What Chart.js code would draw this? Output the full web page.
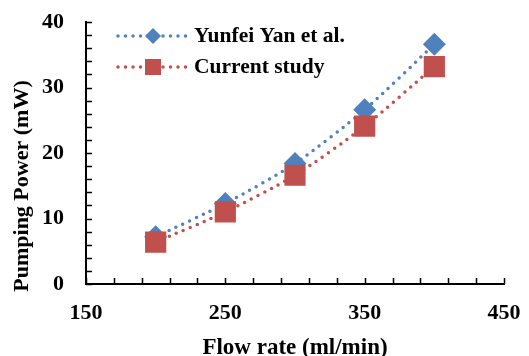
<!DOCTYPE html>
<html>
<head>
<meta charset="utf-8">
<script src="https://cdn.jsdelivr.net/npm/chart.js@4/dist/chart.umd.min.js"></script>
<style>
  body { margin: 0; background: #fff; }
  #wrap { width: 529px; height: 356px; }
</style>
</head>
<body>
<div id="wrap"><canvas id="myChart" width="529" height="356"></canvas></div>
<script>
// Data
const flowRates = [200, 250, 300, 350, 400];
const yanValues = [7.2, 12.3, 18.4, 26.6, 36.6];
const currentValues = [6.4, 11.0, 16.6, 24.1, 33.2];
const xTickLabels = [150, 250, 350, 450];
const yTickLabels = [0, 10, 20, 30, 40];
const yTitle = 'Pumping Power (mW)';

const serif = '"Liberation Serif", "Times New Roman", serif';
const blue = '#4F81BD';
const red = '#C0504D';

function toPoints(xs, ys) {
  return xs.map((x, i) => ({ x: x, y: ys[i] }));
}

// ticks drawn on the inside of the axes, like Excel
const innerTicks = {
  id: 'innerTicks',
  afterDraw(chart) {
    const ctx = chart.ctx;
    const xs = chart.scales.x;
    const ys = chart.scales.y;
    ctx.save();
    ctx.strokeStyle = '#000';
    ctx.lineWidth = 1.5;
    ctx.beginPath();
    xs.ticks.forEach(t => {
      const px = Math.round(xs.getPixelForValue(t.value)) + 0.5;
      ctx.moveTo(px, ys.bottom);
      ctx.lineTo(px, ys.bottom - 6);
    });
    ys.ticks.forEach(t => {
      const py = Math.round(ys.getPixelForValue(t.value)) + 0.5;
      ctx.moveTo(xs.left, py);
      ctx.lineTo(xs.left + 6, py);
    });
    ctx.stroke();

    // y axis title, sits a bit lower than the plot centre in the original
    ctx.translate(22, 186);
    ctx.rotate(-Math.PI / 2);
    ctx.fillStyle = '#000';
    ctx.font = 'bold 22px ' + serif;
    ctx.textAlign = 'center';
    ctx.textBaseline = 'middle';
    ctx.fillText(yTitle, 0, 0);
    ctx.restore();
  }
};

// legend sitting inside the plot, line + marker + label
const insideLegend = {
  id: 'insideLegend',
  afterDraw(chart) {
    const ctx = chart.ctx;
    const rows = [36, 67];
    chart.data.datasets.forEach((ds, i) => {
      const y = rows[i];
      ctx.save();
      ctx.strokeStyle = ds.borderColor;
      ctx.lineWidth = ds.borderWidth;
      ctx.lineCap = 'round';
      ctx.setLineDash(ds.borderDash);
      ctx.beginPath();
      ctx.moveTo(118, y);
      ctx.lineTo(189, y);
      ctx.stroke();
      ctx.setLineDash([]);
      ctx.fillStyle = ds.pointBackgroundColor;
      if (ds.pointStyle === 'rectRot') {
        const r = 8;
        ctx.beginPath();
        ctx.moveTo(153, y - r);
        ctx.lineTo(153 + r, y);
        ctx.lineTo(153, y + r);
        ctx.lineTo(153 - r, y);
        ctx.closePath();
        ctx.fill();
      } else {
        ctx.fillRect(153 - 8, y - 8, 16, 16);
      }
      ctx.fillStyle = '#000';
      ctx.font = 'bold 21.5px ' + serif;
      ctx.textBaseline = 'middle';
      ctx.textAlign = 'left';
      ctx.fillText(ds.label, 194, y);
      ctx.restore();
    });
  }
};

const data = {
  datasets: [
    {
      label: 'Yunfei Yan et al.',
      data: toPoints(flowRates, yanValues),
      borderColor: blue,
      backgroundColor: blue,
      pointBackgroundColor: blue,
      pointBorderColor: blue,
      pointStyle: 'rectRot',
      pointRadius: 9,
      borderWidth: 3.5,
      borderDash: [0, 7.5],
      borderCapStyle: 'round',
      tension: 0.25,
      order: 2,
    },
    {
      label: 'Current study',
      data: toPoints(flowRates, currentValues),
      borderColor: red,
      backgroundColor: red,
      pointBackgroundColor: red,
      pointBorderColor: red,
      pointStyle: 'rect',
      pointRadius: 12.5,
      borderWidth: 3.5,
      borderDash: [0, 7.5],
      borderCapStyle: 'round',
      tension: 0.25,
      order: 1,
    },
  ],
};

const config = {
  type: 'line',
  data,
  options: {
    responsive: false,
    animation: false,
    layout: { padding: { top: 22, right: 25, left: 0, bottom: 0 } },
    plugins: {
      legend: { display: false },
      tooltip: { enabled: false },
    },
    scales: {
      x: {
        type: 'linear',
        min: 150,
        max: 450,
        afterFit: s => {
          s.height = 72;
          s.paddingLeft = 0;
          s.paddingRight = 0;
        },
        afterBuildTicks: s => {
          const t = [];
          for (let v = 150; v <= 450; v += 20) t.push({ value: v });
          s.ticks = t;
        },
        ticks: {
          autoSkip: false,
          maxRotation: 0,
          padding: 16,
          color: '#000',
          font: { family: serif, size: 22, weight: 'bold' },
          callback: v => (xTickLabels.includes(v) ? String(v) : ''),
        },
        grid: { display: true, drawOnChartArea: false, drawTicks: false },
        border: { color: '#000', width: 2 },
        title: {
          display: true,
          text: 'Flow rate (ml/min)',
          color: '#000',
          font: { family: serif, size: 23, weight: 'bold', lineHeight: 1 },
          padding: { top: 0, bottom: -4 },
        },
      },
      y: {
        min: 0,
        max: 40,
        afterFit: s => {
          s.width = 86;
          s.paddingTop = 0;
          s.paddingBottom = 0;
        },
        ticks: {
          stepSize: 2,
          autoSkip: false,
          padding: 22,
          color: '#000',
          font: { family: serif, size: 22, weight: 'bold' },
          callback: v => (yTickLabels.includes(v) ? String(v) : ''),
        },
        grid: { display: true, drawOnChartArea: false, drawTicks: false },
        border: { color: '#000', width: 2 },
        title: { display: false },
      },
    },
  },
  plugins: [innerTicks, insideLegend],
};

const myChart = new Chart(document.getElementById('myChart'), config);
</script>
</body>
</html>
